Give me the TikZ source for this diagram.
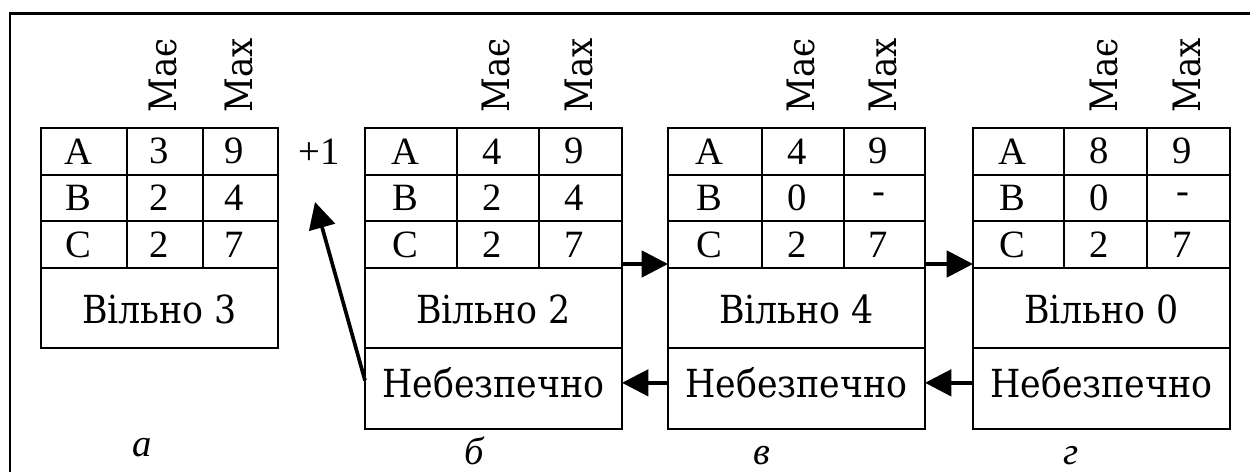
\documentclass[tikz,border=0pt]{standalone}
\usepackage{fontspec}
\setmainfont{Liberation Serif}
\newfontfamily\wordfont{DejaVu Serif Condensed}
\usetikzlibrary{arrows.meta,fit,calc}

\tikzset{
  box/.style={draw=black, line width=1.2pt, inner sep=0pt, outer sep=0pt},
  gridline/.style={draw=black, line width=1.2pt},
  cell/.style={inner sep=0pt, font=\fontsize{22}{26}\selectfont},
  word/.style={inner sep=0pt, font=\wordfont\fontsize{22}{26}\selectfont},
  head/.style={rotate=90, anchor=west, inner sep=0pt, font=\wordfont\fontsize{21.5}{25}\selectfont},
  tag/.style={inner sep=0pt, anchor=base, font=\itshape\fontsize{22}{26}\selectfont},
  flow/.style={line width=2.1pt, -{Triangle[length=15pt,width=15pt]}},
}

% #1 name, #2-#5 column edges, #6 rows (letter/has/max), #7 free amount
\newcommand\statetable[7]{%
  \node[box, fit={(#2,128) (#5,268)}] (#1-rows) {};
  \draw[gridline] (#2,174.67) -- (#5,174.67) (#2,221.33) -- (#5,221.33)
                  (#3,128) -- (#3,268) (#4,128) -- (#4,268);
  \foreach \lab/\have/\most [count=\i] in {#6} {
    \pgfmathsetmacro\yc{128+46.667*(\i-0.5)}
    \node[cell] (#1-\i-name) at ({(#2+#3)/2-6},\yc) {\lab};
    \node[cell] (#1-\i-has)  at ({(#3+#4)/2-6},\yc) {\have};
    \node[cell] (#1-\i-max)  at ({(#4+#5)/2-6},\yc) {\most};
  }
  \node[head] (#1-head-has) at ({(#3+#4)/2-2},113) {Має};
  \node[head] (#1-head-max) at ({(#4+#5)/2-2},113) {Мах};
  \node[box, fit={(#2,268) (#5,348)}] (#1-free) {};
  \node[word] (#1-free-text) at ({(#2+#5)/2},309) {Вільно #7};
}

% the "unsafe" row under a table: #1 name, #2 left, #3 right
\newcommand\unsaferow[3]{%
  \node[box, fit={(#2,348) (#3,429)}] (#1-unsafe) {};
  \node[word] (#1-unsafe-text) at ({(#2+#3)/2},383) {Небезпечно};
}

\begin{document}
\begin{tikzpicture}[x=0.02cm, y=-0.02cm]
  \useasboundingbox (0,0) rectangle (1250,472);
  \fill[white] (0,0) rectangle (1250,472);

  % outer frame
  \draw[line width=1.7pt] (10,472) -- (10,13.7) -- (1250,13.7);

  % states
  \statetable{a}{41}{127}{203}{278}{A/3/9, B/2/4, C/2/7}{3}
  \statetable{b}{365}{457}{539}{622}{A/4/9, B/2/4, C/2/7}{2}
  \statetable{c}{668}{762}{844}{925}{A/4/9, B/0/-, C/2/7}{4}
  \statetable{d}{973}{1064}{1147}{1230}{A/8/9, B/0/-, C/2/7}{0}
  \unsaferow{b}{365}{622}
  \unsaferow{c}{668}{925}
  \unsaferow{d}{973}{1230}

  % captions
  \node[tag] (a-tag) at (142,457) {а};
  \node[tag] (b-tag) at (474,464) {б};
  \node[tag] (c-tag) at (762,464) {в};
  \node[tag] (d-tag) at (1071,464) {г};

  % request of one more unit
  \node[cell] (plus) at (319,152) {+1};
  \coordinate (plustip) at (315,202);

  % transitions
  \draw[flow] ([yshift=0.08cm]b-rows.south east) -- ([yshift=0.08cm]c-rows.south west);
  \draw[flow] ([yshift=0.08cm]c-rows.south east) -- ([yshift=0.08cm]d-rows.south west);
  \draw[flow] ($(d-unsafe.north west)!0.43!(d-unsafe.south west)$) -- ($(c-unsafe.north east)!0.43!(c-unsafe.south east)$);
  \draw[flow] ($(c-unsafe.north west)!0.43!(c-unsafe.south west)$) -- ($(b-unsafe.north east)!0.43!(b-unsafe.south east)$);
  \draw[flow] ($(b-unsafe.north west)!0.4!(b-unsafe.south west)$) -- (plustip);
\end{tikzpicture}
\end{document}
